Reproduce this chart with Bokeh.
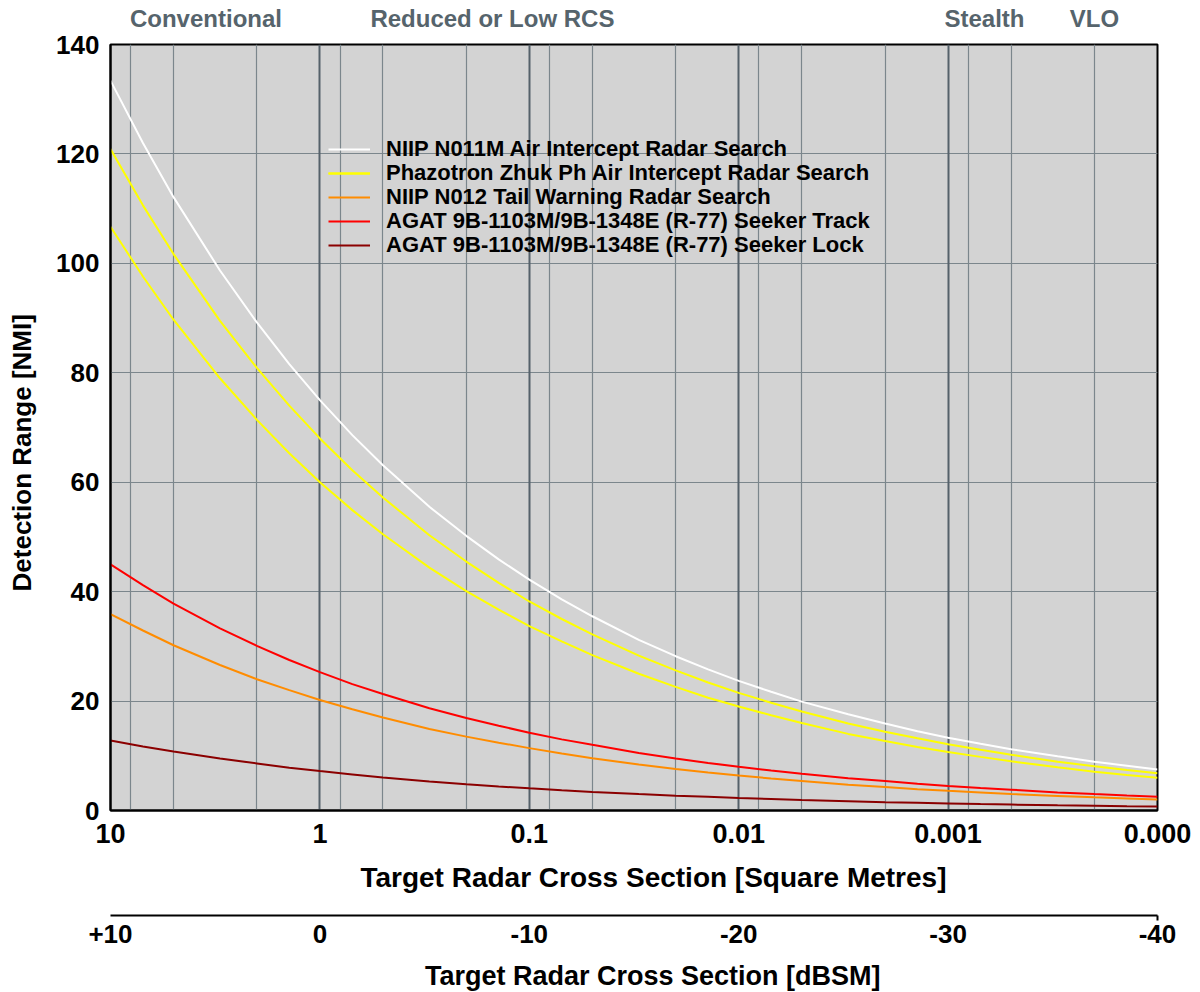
from bokeh.plotting import figure
from bokeh.models import (Range1d, LinearAxis, FixedTicker, Grid, Legend, LegendItem,
                          LinearScale, ColumnDataSource)
from bokeh.embed import file_html
from bokeh.resources import INLINE

# ---- data ----
rcs = [10, 7, 5, 3, 2, 1.4, 1,
       0.7, 0.5, 0.3, 0.2, 0.14, 0.1,
       0.07, 0.05, 0.03, 0.02, 0.014, 0.01,
       0.007, 0.005, 0.003, 0.002, 0.0014, 0.001,
       0.0007, 0.0005, 0.0003, 0.0002, 0.00014, 0.0001]

n011m = [133.4, 122.0, 112.1, 98.7, 89.2, 81.6, 75.0,
         68.6, 63.1, 55.5, 50.2, 45.9, 42.2,
         38.6, 35.5, 31.2, 28.2, 25.8, 23.7,
         21.7, 19.9, 17.6, 15.9, 14.5, 13.3,
         12.2, 11.2, 9.9, 8.9, 8.2, 7.5]

zhuk_a = [120.9, 110.6, 101.7, 89.5, 80.9, 74.0, 68.0,
          62.2, 57.2, 50.3, 45.5, 41.6, 38.2,
          35.0, 32.2, 28.3, 25.6, 23.4, 21.5,
          19.7, 18.1, 15.9, 14.4, 13.2, 12.1,
          11.1, 10.2, 8.9, 8.1, 7.4, 6.8]

zhuk_b = [106.7, 97.6, 89.7, 79.0, 71.4, 65.3, 60.0,
          54.9, 50.5, 44.4, 40.1, 36.7, 33.7,
          30.9, 28.4, 25.0, 22.6, 20.6, 19.0,
          17.4, 16.0, 14.0, 12.7, 11.6, 10.7,
          9.8, 9.0, 7.9, 7.1, 6.5, 6.0]

n012 = [35.9, 32.9, 30.2, 26.6, 24.0, 22.0, 20.2,
        18.5, 17.0, 14.9, 13.5, 12.4, 11.4,
        10.4, 9.55, 8.4, 7.6, 6.95, 6.4,
        5.85, 5.4, 4.7, 4.3, 3.9, 3.6,
        3.3, 3.0, 2.66, 2.4, 2.2, 2.0]

agat_track = [45.0, 41.2, 37.8, 33.3, 30.1, 27.5, 25.3,
              23.1, 21.3, 18.7, 16.9, 15.5, 14.2,
              13.0, 12.0, 10.5, 9.5, 8.7, 8.0,
              7.3, 6.7, 5.9, 5.4, 4.9, 4.5,
              4.1, 3.8, 3.3, 3.0, 2.75, 2.53]

agat_lock = [12.8, 11.7, 10.8, 9.5, 8.6, 7.8, 7.2,
             6.6, 6.05, 5.3, 4.8, 4.4, 4.05,
             3.7, 3.4, 3.0, 2.7, 2.5, 2.3,
             2.1, 1.9, 1.7, 1.5, 1.4, 1.3,
             1.17, 1.08, 0.95, 0.86, 0.78, 0.72]

legend_labels = ["NIIP N011M Air Intercept Radar Search",
                 "Phazotron Zhuk Ph Air Intercept Radar Search",
                 "NIIP N012 Tail Warning Radar Search",
                 "AGAT 9B-1103M/9B-1348E (R-77) Seeker Track",
                 "AGAT 9B-1103M/9B-1348E (R-77) Seeker Lock"]

rcs_ticks = [10, 1, 0.1, 0.01, 0.001, 0.0001]
rcs_tick_labels = ["10", "1", "0.1", "0.01", "0.001", "0.000"]
dbsm_ticks = [10, 0, -10, -20, -30, -40]
dbsm_tick_labels = ["+10", "0", "-10", "-20", "-30", "-40"]
y_ticks = [0, 20, 40, 60, 80, 100, 120, 140]
grid_decades = [1, 0.1, 0.01, 0.001]
grid_minor = [8, 5, 2, 0.8, 0.5, 0.2, 0.08, 0.05, 0.02, 0.008, 0.005, 0.002,
              0.0008, 0.0005, 0.0002]
classes = ["Conventional", "Reduced or Low RCS", "Stealth", "VLO"]
class_pos = [3.5, 0.15, 0.00067, 0.0002]

FONT = "Liberation Sans"
NB = "\u00a0"

src = ColumnDataSource(dict(rcs=rcs, n011m=n011m, zhuk_a=zhuk_a, zhuk_b=zhuk_b,
                            n012=n012, agat_track=agat_track, agat_lock=agat_lock))

p = figure(x_axis_type="log", x_range=Range1d(10, 0.0001), y_range=Range1d(0, 140),
           frame_width=1047, frame_height=766,
           min_border_left=110, min_border_right=43, min_border_top=44, min_border_bottom=0,
           output_backend="svg", toolbar_location=None,
           background_fill_color="#d3d3d3", border_fill_color="white",
           outline_line_color="black", outline_line_width=2)

p.xgrid.visible = False
p.ygrid.ticker = FixedTicker(ticks=y_ticks)
p.ygrid.grid_line_color = "#7b868c"
p.ygrid.grid_line_width = 1.2

g_minor = Grid(dimension=0, ticker=FixedTicker(ticks=grid_minor),
               grid_line_color="#7b868c", grid_line_width=1.2)
g_dec = Grid(dimension=0, ticker=FixedTicker(ticks=grid_decades),
             grid_line_color="#55616a", grid_line_width=2)
p.add_layout(g_minor)
p.add_layout(g_dec)

# curves
r_n011m = p.line("rcs", "n011m", source=src, line_color="white", line_width=2)
r_za = p.line("rcs", "zhuk_a", source=src, line_color="#ffff00", line_width=2)
r_zb = p.line("rcs", "zhuk_b", source=src, line_color="#ffff00", line_width=2)
r_n012 = p.line("rcs", "n012", source=src, line_color="#ff8c00", line_width=2)
r_trk = p.line("rcs", "agat_track", source=src, line_color="#ff0000", line_width=2)
r_lck = p.line("rcs", "agat_lock", source=src, line_color="#8b0000", line_width=2)

# legend: one single-row legend per entry so that rows can sit tightly together
legend_renderers = [[r_n011m], [r_za, r_zb], [r_n012], [r_trk], [r_lck]]
LEG_X = 218
LEG_Y0 = 648
LEG_STEP = 23.9
for i, (lab, rends) in enumerate(zip(legend_labels, legend_renderers)):
    lg = Legend(items=[LegendItem(label=lab, renderers=rends)],
                location=(LEG_X, int(round(LEG_Y0 - i * LEG_STEP))))
    lg.border_line_color = None
    lg.background_fill_alpha = 0
    lg.padding = 0
    lg.margin = 0
    lg.spacing = 0
    lg.glyph_width = 42
    lg.glyph_height = 20
    lg.label_height = 20
    lg.label_standoff = 16
    lg.label_text_font = FONT
    lg.label_text_font_size = "22px"
    lg.label_text_font_style = "bold"
    lg.label_text_color = "black"
    p.add_layout(lg)

# main x axis (square metres)
xa = p.xaxis[0]
xa.ticker = FixedTicker(ticks=rcs_ticks)
xa.major_label_overrides = {t: l for t, l in zip(rcs_ticks, rcs_tick_labels)}
xa.axis_label = NB * 5 + "Target Radar Cross Section [Square Metres]"
xa.major_label_standoff = 13
xa.axis_label_standoff = 16
xa.major_label_text_font_size = "27px"
xa.axis_label_text_font_size = "28px"

# y axis
ya = p.yaxis[0]
ya.ticker = FixedTicker(ticks=y_ticks)
ya.axis_label = "Detection Range [NMI]" + NB * 7
ya.major_label_standoff = 11
ya.axis_label_standoff = 16
ya.major_label_text_font_size = "26px"
ya.axis_label_text_font_size = "26px"

for ax in (xa, ya):
    ax.axis_line_color = "black"
    ax.axis_line_width = 2
    ax.major_tick_line_color = None
    ax.minor_tick_line_color = None
    ax.major_tick_out = 0
    ax.major_tick_in = 0
    ax.minor_tick_out = 0
    ax.major_label_text_font = FONT
    ax.major_label_text_font_style = "bold"
    ax.major_label_text_color = "black"
    ax.axis_label_text_font = FONT
    ax.axis_label_text_font_style = "bold"
    ax.axis_label_text_color = "black"

# top class labels
top = LinearAxis(ticker=FixedTicker(ticks=class_pos),
                 major_label_overrides={t: l for t, l in zip(class_pos, classes)})
top.axis_line_color = None
top.major_tick_line_color = None
top.minor_tick_line_color = None
top.major_tick_out = 0
top.major_tick_in = 0
top.minor_tick_out = 0
top.major_label_standoff = 13
top.major_label_text_font = FONT
top.major_label_text_font_size = "24px"
top.major_label_text_font_style = "bold"
top.major_label_text_color = "#56646c"
p.add_layout(top, "above")

# dBSM secondary axis
p.extra_x_ranges = {"db": Range1d(10, -40)}
p.extra_x_scales = {"db": LinearScale()}

spacer = LinearAxis(x_range_name="db", ticker=FixedTicker(ticks=[]), axis_label=NB)
spacer.axis_line_color = None
spacer.major_tick_line_color = None
spacer.minor_tick_line_color = None
spacer.major_tick_out = 0
spacer.major_tick_in = 0
spacer.minor_tick_out = 0
spacer.major_label_standoff = 0
spacer.axis_label_standoff = 0
spacer.axis_label_text_font = FONT
spacer.axis_label_text_font_size = "15px"
p.add_layout(spacer, "below")

db = LinearAxis(x_range_name="db", ticker=FixedTicker(ticks=dbsm_ticks, minor_ticks=[-40]),
                major_label_overrides={t: l for t, l in zip(dbsm_ticks, dbsm_tick_labels)})
db.axis_label = NB * 5 + "Target Radar Cross Section [dBSM]"
db.axis_line_color = "black"
db.axis_line_width = 2
db.major_tick_line_color = None
db.major_tick_out = 0
db.major_tick_in = 0
db.minor_tick_line_color = "black"
db.minor_tick_line_width = 2
db.minor_tick_out = 5
db.minor_tick_in = 0
db.major_label_standoff = 4
db.axis_label_standoff = 15
db.major_label_text_font = FONT
db.major_label_text_font_size = "26px"
db.major_label_text_font_style = "bold"
db.major_label_text_color = "black"
db.axis_label_text_font = FONT
db.axis_label_text_font_size = "27px"
db.axis_label_text_font_style = "bold"
db.axis_label_text_color = "black"
p.add_layout(db, "below")

open("out.html", "w").write(file_html(p, INLINE))
